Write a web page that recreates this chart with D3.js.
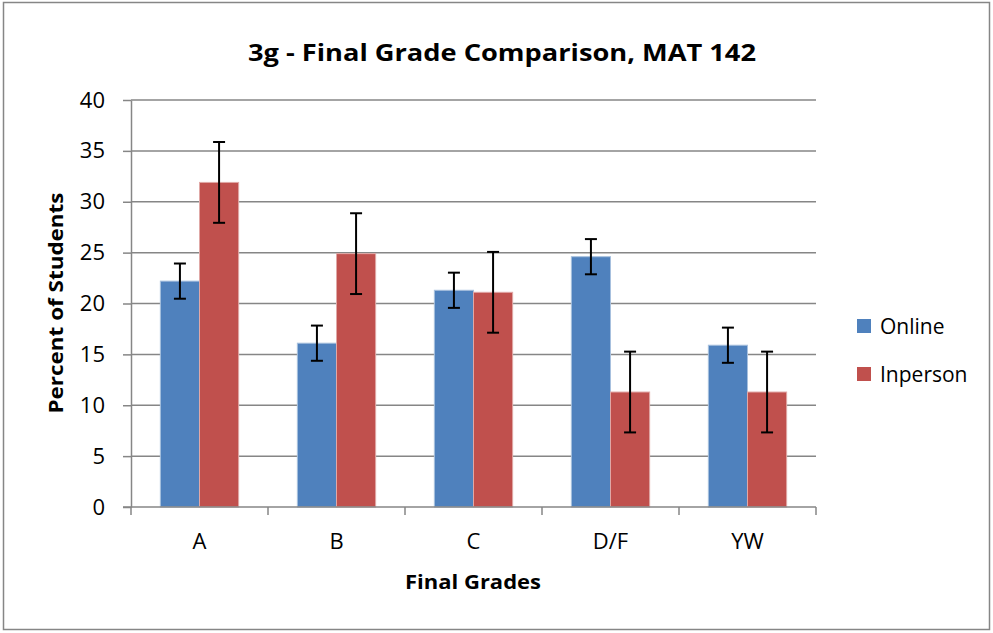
<!DOCTYPE html>
<html>
<head>
<meta charset="utf-8">
<script src="https://cdn.jsdelivr.net/npm/d3@7"></script>
<style>
  body { margin: 0; background: #fff; }
  text { font-family: 'Open Sans', 'Noto Sans', sans-serif; fill: #000; }
</style>
</head>
<body>
<div class="chart"></div>
<script>
'use strict'
const grades = ['A', 'B', 'C', 'D/F', 'YW']
const seriesNames = ['Online', 'Inperson']
const online = [22.2, 16.1, 21.3, 24.6, 15.9]
const inperson = [31.9, 24.9, 21.1, 11.3, 11.3]
const onlineErr = [1.73, 1.73, 1.73, 1.73, 1.73]
const inpersonErr = [3.97, 3.97, 3.97, 3.97, 3.97]
const yTicks = [0, 5, 10, 15, 20, 25, 30, 35, 40]
const colors = ['#4f81bd', '#c0504d']
const edgeColors = ['#a7c0de', '#e0a8a6']

const width = 993
const height = 633
const plot = { left: 131, right: 816, top: 100, bottom: 507 }

const svg = d3.select('.chart').append('svg')
  .attr('width', width)
  .attr('height', height)

// outer frame
svg.append('rect')
  .attr('x', 3.5).attr('y', 2.5)
  .attr('width', 986).attr('height', 627)
  .attr('fill', '#fff')
  .attr('stroke', '#868686')
  .attr('stroke-width', 1.5)

const x = d3.scaleBand().domain(grades).range([plot.left, plot.right])
  .paddingInner(0).paddingOuter(0)
const inner = d3.scaleBand().domain(seriesNames)
  .range([0, x.bandwidth()]).paddingOuter(0.75).paddingInner(0)
const y = d3.scaleLinear().domain([0, 40]).range([plot.bottom, plot.top])

// gridlines + y axis
const yAxis = d3.axisLeft(y).tickValues(yTicks).tickSize(8).tickPadding(18)
  .tickSizeOuter(0)
const gy = svg.append('g').attr('transform', 'translate(' + plot.left + ',0)').call(yAxis)
gy.attr('font-family', null).attr('font-size', null)
gy.select('.domain').attr('stroke', '#868686').attr('stroke-width', 1.5)
gy.selectAll('.tick line').attr('stroke', '#868686').attr('stroke-width', 1.5)
gy.selectAll('.tick text').style('font-size', '22px')

svg.append('g').selectAll('line')
  .data(yTicks.filter(function (d) { return d > 0 }))
  .enter().append('line')
  .attr('x1', plot.left).attr('x2', plot.right)
  .attr('y1', function (d) { return y(d) }).attr('y2', function (d) { return y(d) })
  .attr('stroke', '#868686').attr('stroke-width', 1.5)

// bars
const rows = grades.map(function (g, i) {
  return [
    { grade: g, s: 0, v: online[i], e: onlineErr[i] },
    { grade: g, s: 1, v: inperson[i], e: inpersonErr[i] }
  ]
})
const groups = svg.append('g').selectAll('g')
  .data(rows).enter().append('g')
  .attr('transform', function (d) { return 'translate(' + x(d[0].grade) + ',0)' })

groups.selectAll('rect').data(function (d) { return d }).enter().append('rect')
  .attr('x', function (d) { return inner(seriesNames[d.s]) })
  .attr('y', function (d) { return y(d.v) })
  .attr('width', inner.bandwidth())
  .attr('height', function (d) { return y(0) - y(d.v) })
  .attr('fill', function (d) { return colors[d.s] })
  .attr('stroke', function (d) { return edgeColors[d.s] })
  .attr('stroke-width', 1)

// error bars
const eb = groups.selectAll('g.err').data(function (d) { return d }).enter().append('g')
  .attr('class', 'err')
  .attr('transform', function (d) {
    return 'translate(' + (inner(seriesNames[d.s]) + inner.bandwidth() / 2) + ',0)'
  })
eb.append('line')
  .attr('y1', function (d) { return y(d.v + d.e) })
  .attr('y2', function (d) { return y(d.v - d.e) })
eb.append('line').attr('x1', -6).attr('x2', 6)
  .attr('y1', function (d) { return y(d.v + d.e) })
  .attr('y2', function (d) { return y(d.v + d.e) })
eb.append('line').attr('x1', -6).attr('x2', 6)
  .attr('y1', function (d) { return y(d.v - d.e) })
  .attr('y2', function (d) { return y(d.v - d.e) })
eb.selectAll('line').attr('stroke', '#000').attr('stroke-width', 2)

// x axis
const xAxis = d3.axisBottom(x).tickSize(0).tickPadding(26)
const gx = svg.append('g').attr('transform', 'translate(0,' + plot.bottom + ')').call(xAxis)
gx.attr('font-family', null).attr('font-size', null)
gx.select('.domain').remove()
gx.selectAll('.tick text').style('font-size', '22px')
svg.append('line')
  .attr('x1', plot.left - 8).attr('x2', plot.right)
  .attr('y1', plot.bottom).attr('y2', plot.bottom)
  .attr('stroke', '#868686').attr('stroke-width', 1.5)
svg.append('g').selectAll('line')
  .data(grades.concat(['end'])).enter().append('line')
  .attr('x1', function (d) { return d === 'end' ? plot.right : x(d) })
  .attr('x2', function (d) { return d === 'end' ? plot.right : x(d) })
  .attr('y1', plot.bottom).attr('y2', plot.bottom + 8)
  .attr('stroke', '#868686').attr('stroke-width', 1.5)

// titles
svg.append('text')
  .attr('x', 502).attr('y', 61)
  .attr('text-anchor', 'middle')
  .style('font-size', '23px').style('font-weight', 'bold')
  .attr('textLength', 508).attr('lengthAdjust', 'spacingAndGlyphs')
  .text('3g - Final Grade Comparison, MAT 142')

svg.append('text')
  .attr('x', 473).attr('y', 589)
  .attr('text-anchor', 'middle')
  .style('font-size', '19px').style('font-weight', 'bold')
  .attr('textLength', 136).attr('lengthAdjust', 'spacingAndGlyphs')
  .text('Final Grades')

svg.append('text')
  .attr('transform', 'translate(63,303) rotate(-90)')
  .attr('text-anchor', 'middle')
  .style('font-size', '19px').style('font-weight', 'bold')
  .attr('textLength', 221).attr('lengthAdjust', 'spacingAndGlyphs')
  .text('Percent of Students')

// legend
const legend = svg.append('g').selectAll('g')
  .data(seriesNames).enter().append('g')
  .attr('transform', function (d, i) { return 'translate(857,' + (319 + i * 48) + ')' })
legend.append('rect')
  .attr('width', 14).attr('height', 14)
  .attr('fill', function (d, i) { return colors[i] })
legend.append('text')
  .attr('x', 23).attr('y', 15)
  .style('font-size', '21px')
  .text(function (d) { return d })
</script>
</body>
</html>
